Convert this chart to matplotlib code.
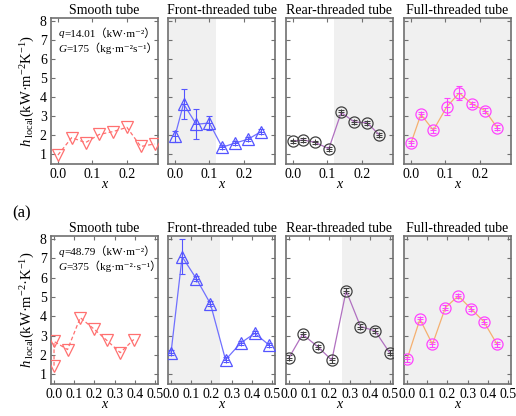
import matplotlib
matplotlib.use('Agg')
import matplotlib.pyplot as plt

plt.rcParams['font.family'] = ['Liberation Serif', 'DejaVu Serif']
plt.rcParams['mathtext.fontset'] = 'custom'
plt.rcParams['mathtext.rm'] = 'Liberation Serif'
plt.rcParams['mathtext.it'] = 'Liberation Serif:italic'

titles = ['Smooth tube', 'Front-threaded tube', 'Rear-threaded tube', 'Full-threaded tube']

# row (a): q=14.01, G=175
smooth_x_a = [0, 0.04, 0.08, 0.12, 0.16, 0.20, 0.24, 0.28]
smooth_h_a = [0.97, 1.88, 1.62, 2.05, 2.2, 2.42, 1.42, 1.55]
front_x_a = [0, 0.025, 0.062, 0.1, 0.137, 0.175, 0.212, 0.25]
front_h_a = [1.95, 3.65, 2.58, 2.65, 1.38, 1.6, 1.8, 2.2]
front_err_a = [0.3, 0.8, 0.78, 0.38, 0.1, 0.1, 0.1, 0.12]
rear_x_a = [0, 0.029, 0.065, 0.104, 0.14, 0.178, 0.215, 0.25]
rear_h_a = [1.68, 1.76, 1.63, 1.3, 3.2, 2.7, 2.66, 2.03]
rear_err_a = [0.1, 0.1, 0.1, 0.1, 0.12, 0.1, 0.1, 0.1]
full_x_a = [0, 0.029, 0.065, 0.104, 0.14, 0.178, 0.215, 0.25]
full_h_a = [1.58, 3.1, 2.27, 3.5, 4.22, 3.63, 3.3, 2.4]
full_err_a = [0.15, 0.12, 0.12, 0.45, 0.38, 0.12, 0.12, 0.12]

# row (b): q=48.79, G=375
smooth_x_b = [0, 0, 0.067, 0.13, 0.197, 0.262, 0.328, 0.395]
smooth_h_b = [1.45, 2.7, 2.28, 3.93, 3.35, 2.75, 2.12, 2.8]
front_x_b = [0, 0.055, 0.125, 0.195, 0.27, 0.345, 0.415, 0.485]
front_h_b = [2.12, 7.08, 5.95, 4.65, 1.75, 2.62, 3.12, 2.52]
front_err_b = [0.12, 0.9, 0.12, 0.12, 0.12, 0.12, 0.12, 0.12]
rear_x_b = [0, 0.067, 0.143, 0.212, 0.283, 0.354, 0.426, 0.498]
rear_h_b = [1.86, 3.07, 2.42, 1.73, 5.32, 3.47, 3.25, 2.12]
rear_err_b = [0.12, 0.12, 0.12, 0.12, 0.12, 0.12, 0.12, 0.12]
full_x_b = [0, 0.064, 0.126, 0.19, 0.254, 0.316, 0.38, 0.446]
full_h_b = [1.78, 3.85, 2.55, 4.45, 5.05, 4.4, 3.73, 2.55]
full_err_b = [0.12, 0.12, 0.12, 0.12, 0.12, 0.12, 0.12, 0.12]

# grey threaded zones (start, end) in x
shade_a = [None, (-0.1, 0.12), (0.12, 1.0), (-0.1, 1.0)]
shade_b = [None, (-0.1, 0.245), (0.26, 1.0), (-0.1, 1.0)]

q_vals = ['14.01', '48.79']
g_vals = ['175', '375']
g_units = ['kg·m⁻²s⁻¹', 'kg·m⁻²·s⁻¹']
ylabels = [r'$h_{\ \mathrm{local}}$(kW·m$^{-2}$K$^{-1}$)',
           r'$h_{\ \mathrm{local}}$(kW·m$^{-2}$·K$^{-1}$)']

fig = plt.figure(figsize=(5.16, 4.16), dpi=100)

lefts = [51, 168, 286, 404]
rows = [(164, 146), (384, 148)]  # bottom pixel, height


def style_axes(ax):
    for sp in ax.spines.values():
        sp.set_color('#707070')
        sp.set_linewidth(1.2)
    ax.tick_params(direction='in', top=True, right=True, length=3, width=0.8,
                   color='#707070', labelsize=10, pad=3)


def draw_series(ax, x, h, err, mcolor, lcolor, marker, ls='-'):
    if err is not None:
        ax.errorbar(x, h, yerr=err, fmt='none', ecolor=mcolor, elinewidth=0.8,
                    capsize=2, capthick=0.8, zorder=3)
    ax.plot(x, h, color=lcolor, lw=0.9, ls=ls, marker=marker, mfc='none',
            mec=mcolor, mew=0.9, ms=8, zorder=4)
    if err is not None:
        ax.plot(x, h, ls='none', marker='+', color=mcolor, ms=4, mew=0.7, zorder=5)


def param_text(ax, y, sym, rest):
    t1 = ax.text(0.07, y, sym, transform=ax.transAxes, style='italic',
                 fontsize=8, va='bottom')
    ax.annotate(rest, xy=(1, 0), xycoords=t1, va='bottom', fontsize=8,
                family=['Liberation Serif', 'Noto Sans CJK SC', 'DejaVu Serif'])


data = [
    [(smooth_x_a, smooth_h_a), (front_x_a, front_h_a, front_err_a),
     (rear_x_a, rear_h_a, rear_err_a), (full_x_a, full_h_a, full_err_a)],
    [(smooth_x_b, smooth_h_b), (front_x_b, front_h_b, front_err_b),
     (rear_x_b, rear_h_b, rear_err_b), (full_x_b, full_h_b, full_err_b)],
]

for r in range(2):
    bottom_px, height_px = rows[r]
    shades = shade_a if r == 0 else shade_b
    for c in range(4):
        ax = fig.add_axes([lefts[c] / 516, 1 - bottom_px / 416, 107 / 516, height_px / 416])
        style_axes(ax)
        if shades[c] is not None:
            ax.axvspan(shades[c][0], shades[c][1], color='#f0f0f0', lw=0, zorder=0)
        d = data[r][c]
        if c == 0:
            draw_series(ax, d[0], d[1], None, '#ff7070', '#ff7070', 'v', ls=(0, (3, 2)))
        elif c == 1:
            draw_series(ax, d[0], d[1], d[2], '#5555ff', '#7070ff', '^')
        elif c == 2:
            draw_series(ax, d[0], d[1], d[2], '#404040', '#b070c0', 'o')
        else:
            draw_series(ax, d[0], d[1], d[2], '#ff44ff', '#f5b070', 'o')

        ax.set_ylim(0.5, 8.15)
        ax.set_yticks([1, 2, 3, 4, 5, 6, 7, 8])
        if r == 0:
            ax.set_xlim(-0.02, 0.29)
            ax.set_xticks([0.0, 0.1, 0.2])
        else:
            ax.set_xlim(-0.015, 0.515)
            ax.set_xticks([0.0, 0.1, 0.2, 0.3, 0.4, 0.5])
        ax.set_xticklabels(['%.1f' % t for t in ax.get_xticks()])
        ax.set_xlabel('x', style='italic', fontsize=10, labelpad=-2)
        ax.set_title(titles[c], fontsize=10, pad=3)
        if c == 0:
            ax.set_ylabel(ylabels[r], fontsize=10.5, labelpad=2)
            param_text(ax, 0.86, 'q', '=' + q_vals[r] + '（kW·m⁻²）')
            param_text(ax, 0.755, 'G', '=' + g_vals[r] + '（' + g_units[r] + '）')
        else:
            ax.set_yticklabels([])

fig.text(12 / 516, 1 - 213 / 416, '(a)', fontsize=12, va='center')

fig.savefig('out.png', dpi=100)
